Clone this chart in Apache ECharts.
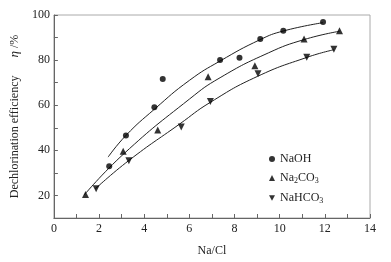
<!DOCTYPE html>
<html>
<head>
<meta charset="utf-8">
<script src="https://cdn.jsdelivr.net/npm/echarts@6/dist/echarts.min.js"></script>
<style>html,body{margin:0;padding:0;background:#fff;}#c{width:391px;height:262px;}</style>
</head>
<body>
<div id="c"></div>
<script>
// Measured points
const naohX = [2.45, 3.19, 4.45, 4.82, 7.36, 8.22, 9.14, 10.16, 11.92];
const naohY = [32.9, 46.6, 59.1, 71.6, 80.0, 81.0, 89.4, 93.0, 96.9];
const na2co3X = [1.40, 3.07, 4.60, 6.83, 8.90, 11.08, 12.65];
const na2co3Y = [20.4, 39.6, 49.0, 72.6, 77.5, 89.4, 93.0];
const nahco3X = [1.87, 3.32, 5.64, 6.93, 9.04, 11.20, 12.40];
const nahco3Y = [23.0, 35.4, 50.3, 61.6, 73.9, 81.3, 84.8];
// Fitted curves
const fitNaohX = [2.40, 3.19, 4.46, 6.00, 7.36, 9.14, 10.16, 11.92];
const fitNaohY = [37.0, 46.6, 58.3, 71.0, 79.6, 89.1, 92.9, 96.6];
const fitNa2co3X = [1.35, 3.10, 6.00, 7.36, 9.50, 11.08, 12.65];
const fitNa2co3Y = [20.3, 38.5, 62.7, 72.2, 83.2, 89.1, 92.8];
const fitNahco3X = [1.83, 3.32, 5.56, 6.93, 9.02, 11.23, 12.40];
const fitNahco3Y = [22.9, 35.5, 51.6, 61.3, 72.8, 81.3, 84.6];
// Axis ticks
const xTickLabels = [0, 2, 4, 6, 8, 10, 12, 14];
const yTickLabels = [20, 40, 60, 80, 100];

const zip = (xs, ys) => xs.map((x, i) => [x, ys[i]]);
const FONT = '"Liberation Serif","Times New Roman",serif';
const downTri = 'path://M0,0L10,0L5,9Z';

const chart = echarts.init(document.getElementById('c'), null, {renderer: 'canvas'});
const lineStyle = {color: '#222', width: 1};
chart.setOption({
  animation: false,
  backgroundColor: '#fff',
  grid: {left: 53, right: 21, top: 15, bottom: 39, show: true, borderColor: '#aaa', borderWidth: 1},
  xAxis: {
    type: 'value', min: 0, max: 14, interval: 1,
    name: 'Na/Cl', nameLocation: 'middle', nameGap: 27,
    nameTextStyle: {fontFamily: FONT, fontSize: 12, color: '#222'},
    axisLine: {show: true, lineStyle: {color: '#666', width: 1}},
    axisTick: {show: true, inside: true, length: 4, lineStyle: {color: '#666'}},
    axisLabel: {fontFamily: FONT, fontSize: 12, color: '#222', margin: 5,
      formatter: v => xTickLabels.includes(v) ? String(v) : ''},
    splitLine: {show: false}
  },
  yAxis: {
    type: 'value', min: 10, max: 100, interval: 10,
    name: 'Dechlorination efficiency      {i|η} /%', nameLocation: 'middle', nameGap: 24, nameRotate: 90,
    nameTextStyle: {fontFamily: FONT, fontSize: 12, color: '#222',
      rich: {i: {fontFamily: FONT, fontSize: 13, fontStyle: 'italic', color: '#222'}}},
    axisLine: {show: true, lineStyle: {color: '#666', width: 1}},
    axisTick: {show: true, inside: true, length: 4, lineStyle: {color: '#666'}},
    axisLabel: {fontFamily: FONT, fontSize: 12, color: '#222', margin: 4,
      formatter: v => yTickLabels.includes(v) ? String(v) : ''},
    splitLine: {show: false}
  },
  legend: {
    data: ['NaOH', 'Na2CO3', 'NaHCO3'],
    orient: 'vertical', left: 264, top: 148, itemGap: 7,
    itemWidth: 6, itemHeight: 6,
    textStyle: {fontFamily: FONT, fontSize: 12, color: '#222',
      rich: {s: {fontFamily: FONT, fontSize: 8, color: '#222', verticalAlign: 'bottom', padding: [6, 0, 0, 0]}}},
    formatter: n => n === 'Na2CO3' ? 'Na{s|2}CO{s|3}' : (n === 'NaHCO3' ? 'NaHCO{s|3}' : n)
  },
  series: [
    {name: 'NaOH fit', type: 'line', data: zip(fitNaohX, fitNaohY), smooth: true, showSymbol: false, symbol: 'none', lineStyle: lineStyle, z: 2},
    {name: 'Na2CO3 fit', type: 'line', data: zip(fitNa2co3X, fitNa2co3Y), smooth: true, showSymbol: false, symbol: 'none', lineStyle: lineStyle, z: 2},
    {name: 'NaHCO3 fit', type: 'line', data: zip(fitNahco3X, fitNahco3Y), smooth: true, showSymbol: false, symbol: 'none', lineStyle: lineStyle, z: 2},
    {name: 'NaOH', type: 'scatter', data: zip(naohX, naohY), symbol: 'circle', symbolSize: 6, itemStyle: {color: '#000'}, z: 3},
    {name: 'Na2CO3', type: 'scatter', data: zip(na2co3X, na2co3Y), symbol: 'triangle', symbolSize: 7, itemStyle: {color: '#000'}, z: 3},
    {name: 'NaHCO3', type: 'scatter', data: zip(nahco3X, nahco3Y), symbol: downTri, symbolSize: 7, itemStyle: {color: '#000'}, z: 3}
  ]
});
</script>
</body>
</html>
